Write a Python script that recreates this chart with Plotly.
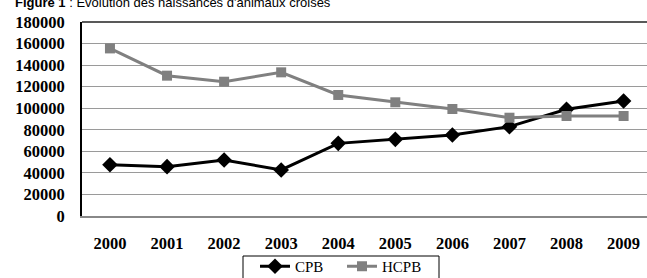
import plotly.graph_objects as go

years = ["2000", "2001", "2002", "2003", "2004", "2005", "2006", "2007", "2008", "2009"]
cpb = [47500, 45800, 52000, 42700, 67400, 71100, 75200, 82900, 99000, 106700]
hcpb = [155500, 130200, 124600, 133300, 112300, 105500, 99300, 91200, 92800, 92800]
y_ticks = [0, 20000, 40000, 60000, 80000, 100000, 120000, 140000, 160000, 180000]

fig = go.Figure()
fig.add_trace(go.Scatter(
    x=years, y=cpb, name="CPB", mode="lines+markers",
    line=dict(color="#000000", width=3),
    marker=dict(symbol="diamond", size=12, color="#000000"),
))
fig.add_trace(go.Scatter(
    x=years, y=hcpb, name="HCPB", mode="lines+markers",
    line=dict(color="#808080", width=3),
    marker=dict(symbol="square", size=10, color="#808080"),
))

# top border of plot area
fig.add_shape(type="line", xref="paper", yref="paper", x0=0, x1=1, y0=1, y1=1,
              line=dict(color="#222222", width=1.5))
# legend frame
fig.add_shape(type="rect", xref="paper", yref="paper",
              x0=(243 - 82) / 565, x1=(439 - 82) / 565,
              y0=(216 - 256) / 194, y1=(216 - 300) / 194,
              line=dict(color="#000000", width=1), fillcolor="rgba(0,0,0,0)")

fig.add_annotation(
    text="<b>Figure 1</b> : Evolution des naissances d'animaux croisés",
    xref="paper", yref="paper", x=(13 - 82) / 565, xanchor="left",
    y=(216 - 12.5) / 194, yanchor="bottom", showarrow=False,
    font=dict(family="Liberation Sans, Arial", size=13, color="#000000"),
)

fig.update_layout(
    template="none",
    width=647, height=278,
    margin=dict(l=82, r=0, t=22, b=62, autoexpand=False),
    paper_bgcolor="white", plot_bgcolor="white",
    showlegend=True,
    legend=dict(
        orientation="h", x=(255 - 82) / 565, xanchor="left",
        y=(216 - 250) / 194, yanchor="top",
        borderwidth=0,
        font=dict(family="Liberation Serif, Times New Roman", size=15, color="#000000"),
        bgcolor="rgba(0,0,0,0)", traceorder="normal",
        entrywidth=42, entrywidthmode="pixels",
    ),
    xaxis=dict(
        type="category", range=[-0.49, 9.41], automargin=False,
        showgrid=False, showline=True, linecolor="#888888", linewidth=2,
        zeroline=False,
        ticks="outside", ticklen=11, tickcolor="rgba(0,0,0,0)",
        tickfont=dict(family="Liberation Serif, Times New Roman", size=16.5,
                      color="#000000", weight="bold"),
        fixedrange=True,
    ),
    yaxis=dict(
        range=[0, 180000], tickvals=y_ticks, ticktext=[str(v) for v in y_ticks],
        automargin=False,
        showgrid=True, gridcolor="#9a9a9a", gridwidth=1.2,
        zeroline=False,
        showline=True, linecolor="#000000", linewidth=2,
        ticks="outside", ticklen=12, tickcolor="rgba(0,0,0,0)",
        tickfont=dict(family="Liberation Serif, Times New Roman", size=16.5,
                      color="#000000", weight="bold"),
        fixedrange=True,
    ),
)

fig.write_html("out.html", config={"displayModeBar": False},
               post_script="document.body.style.margin='0';document.body.style.overflow='hidden';")
